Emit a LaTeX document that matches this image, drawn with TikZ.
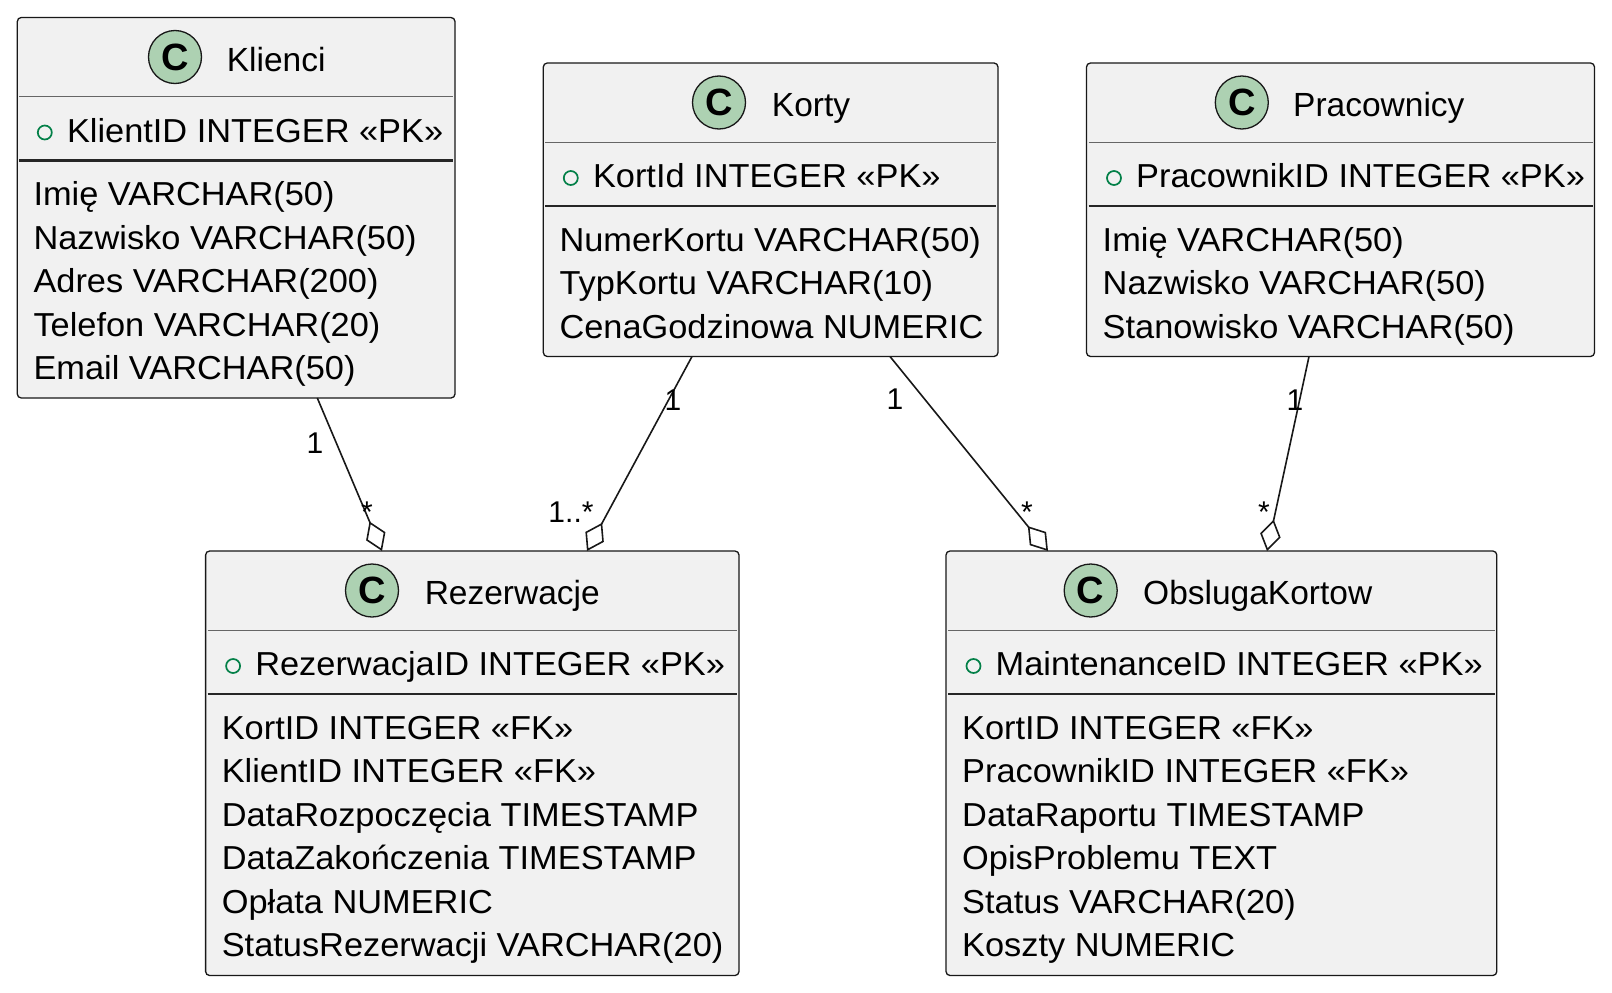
\documentclass[tikz,border=0pt]{standalone}
\usepackage{fontspec}
\setmainfont{Liberation Sans}
\newfontfamily\fieldfont{Liberation Sans}[FakeStretch=1.035]
\usetikzlibrary{arrows.meta,calc}
\definecolor{boxfill}{HTML}{F1F1F1}
\definecolor{boxline}{HTML}{181818}
\definecolor{cfill}{HTML}{ADD1B2}
\definecolor{pkgreen}{HTML}{038048}

% name, left, top, width, height, circle cx, title x, title
\newcommand{\erhead}[8]{%
  \node[tbl, minimum width=#4pt, minimum height=#5pt] (#1) at (#2,#3) {};
  \node[cls] (#1-c) at (#6,#3+39.5) {C};
  \node[ttl] (#1-t) at (#7,#3+53.5) {#8};
  \draw[sep1] (#2+2,#3+79) -- (#2+#4-2,#3+79);
  \draw[sep2] (#2+2,#3+143) -- (#2+#4-2,#3+143);
}
% name, left, top, pk text, attribute list
\newcommand{\erbody}[5]{%
  \node[pkdot] (#1-pkd) at (#2+27.5,#3+115) {};
  \node[fld] (#1-pk) at (#2+49.5,#3+124.5) {#4};
  \foreach \t [count=\i from 0] in {#5}{
    \node[fld] (#1-a\i) at (#2+16,#3+188+43.5*\i) {\t};
  }
}

\begin{document}
\begin{tikzpicture}[x=1pt,y=-1pt,
  tbl/.style={draw=boxline, line width=1.3pt, fill=boxfill, rounded corners=4pt, anchor=north west, inner sep=0pt, outer sep=0pt},
  sep1/.style={draw=black!60, line width=1pt},
  sep2/.style={draw=black!85, line width=2.2pt},
  cls/.style={circle, draw=boxline, line width=1.3pt, fill=cfill, minimum size=53pt, inner sep=0pt, font=\fontsize{38}{38}\selectfont\bfseries},
  ttl/.style={anchor=base west, inner sep=0pt, font=\fontsize{33.5}{40}\selectfont},
  fld/.style={anchor=base west, inner sep=0pt, font=\fieldfont\fontsize{33.2}{40}\selectfont},
  pkdot/.style={circle, draw=pkgreen, line width=1.7pt, minimum size=14pt, inner sep=0pt},
  mult/.style={anchor=base, inner sep=0pt, font=\fontsize{30}{30}\selectfont},
  rel/.style={draw=boxline, line width=1.6pt, -{Diamond[open, length=32pt, width=21pt, line width=1.6pt]}}
]
\useasboundingbox (0,0) rectangle (1612,993);
\fill[white] (0,0) rectangle (1612,993);

\erhead{klienci}{17.3}{17.5}{437.7}{380.5}{175}{226.7}{Klienci}
\erbody{klienci}{17.3}{17.5}{KlientID INTEGER «PK»}{Imię VARCHAR(50),Nazwisko VARCHAR(50),Adres VARCHAR(200),Telefon VARCHAR(20),Email VARCHAR(50)}

\erhead{korty}{543.3}{63}{454.7}{293.5}{719}{771.7}{Korty}
\erbody{korty}{543.3}{63}{KortId INTEGER «PK»}{NumerKortu VARCHAR(50),TypKortu VARCHAR(10),CenaGodzinowa NUMERIC}

\erhead{prac}{1086.5}{63}{508}{293.5}{1241.8}{1293}{Pracownicy}
\erbody{prac}{1086.5}{63}{PracownikID INTEGER «PK»}{Imię VARCHAR(50),Nazwisko VARCHAR(50),Stanowisko VARCHAR(50)}

\erhead{rez}{205.6}{551}{533.4}{424.5}{372}{424.6}{Rezerwacje}
\erbody{rez}{205.6}{551}{RezerwacjaID INTEGER «PK»}{KortID INTEGER «FK»,KlientID INTEGER «FK»,DataRozpoczęcia TIMESTAMP,DataZakończenia TIMESTAMP,Opłata NUMERIC,StatusRezerwacji VARCHAR(20)}

\erhead{obs}{946}{551}{550.8}{424.5}{1090.7}{1143}{ObslugaKortow}
\erbody{obs}{946}{551}{MaintenanceID INTEGER «PK»}{KortID INTEGER «FK»,PracownikID INTEGER «FK»,DataRaportu TIMESTAMP,OpisProblemu TEXT,Status VARCHAR(20),Koszty NUMERIC}

% connectors
\draw[rel] ($(klienci.south west)+(300,0)$) -- ($(rez.north west)+(176.4,0)$);
\draw[rel] ($(korty.south west)+(148.7,0)$) -- ($(rez.north west)+(381.4,0)$);
\draw[rel] ($(korty.south west)+(346.7,0)$) -- ($(obs.north west)+(102,0)$);
\draw[rel] ($(prac.south west)+(222.5,0)$) -- ($(obs.north west)+(321,0)$);

% multiplicities
\node[mult] (m1a) at (315,453) {1};
\node[mult] (m1b) at (367,522) {*};
\node[mult] (m2a) at (673,410) {1};
\node[mult] (m2b) at (571,522) {1..*};
\node[mult] (m3a) at (895,409) {1};
\node[mult] (m3b) at (1027,522) {*};
\node[mult] (m4a) at (1295,410) {1};
\node[mult] (m4b) at (1264,522) {*};
\end{tikzpicture}
\end{document}
